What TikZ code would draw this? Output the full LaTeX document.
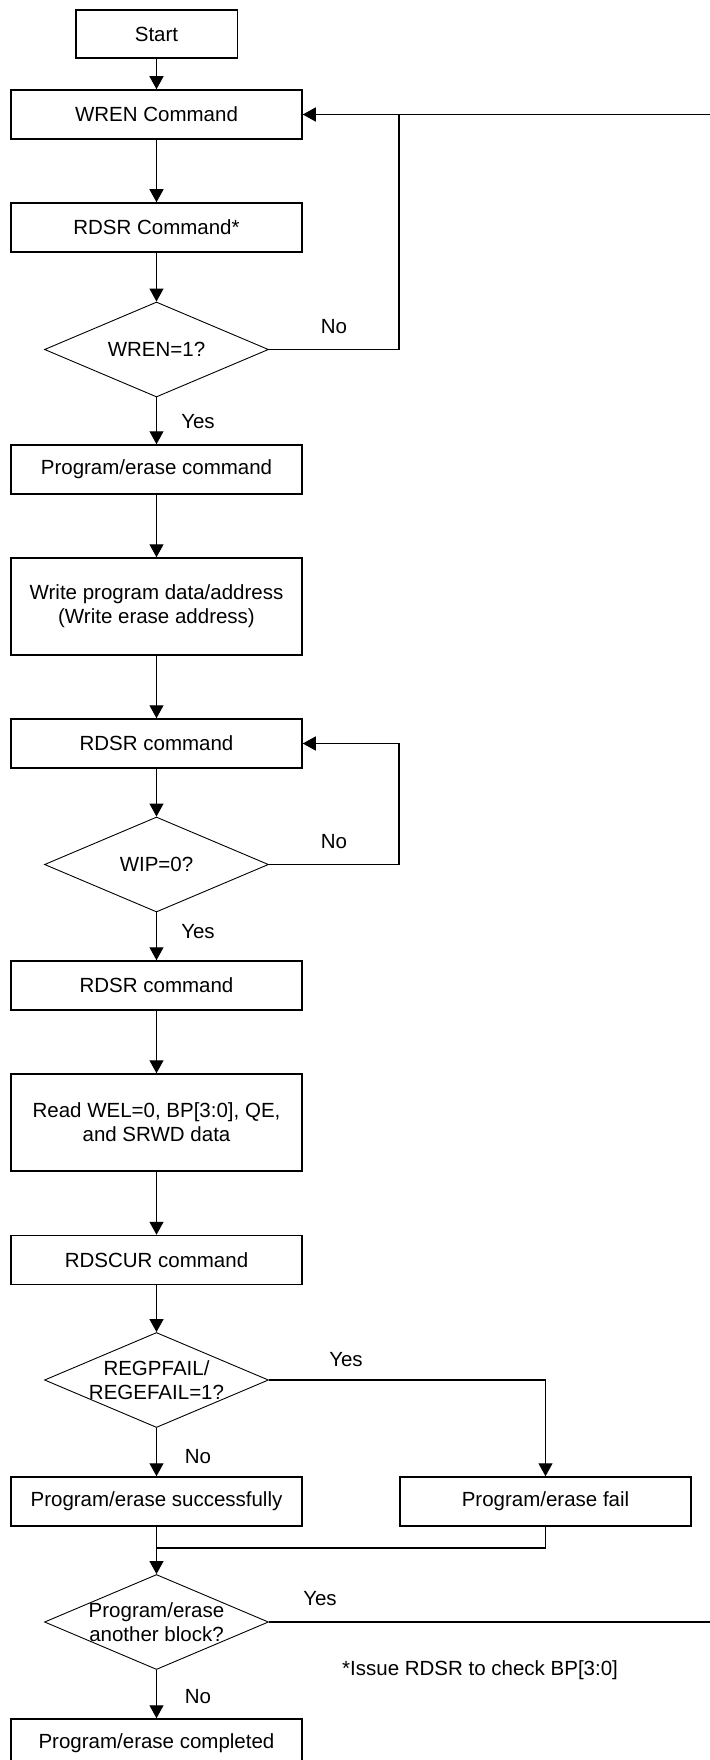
\documentclass[tikz,border=0pt]{standalone}
\usepackage{fontspec}
\setmainfont{Liberation Sans}
\usetikzlibrary{arrows.meta, shapes.geometric}
\tikzset{
  stepbox/.style={draw=black, line width=1.5pt, fill=white, align=center, minimum width=291pt, minimum height=49pt, inner sep=4pt, font=\fontsize{20.5}{24}\selectfont},
  decision/.style={draw=black, line width=0.9pt, diamond, minimum width=224pt, minimum height=95pt, inner sep=0pt},
  arrow/.style={-{Triangle[length=13pt, width=14pt]}, line width=1.2pt, draw=black},
  plainline/.style={line width=1.2pt, draw=black}
}

\begin{document}
\begin{tikzpicture}[
  x=1pt, y=-1pt,
  lbl/.style={font=\fontsize{20.5}{24}\selectfont, inner sep=0pt, align=center},
  tallbox/.style={stepbox, minimum height=97pt}
]
\useasboundingbox (0,0) rectangle (709,1760);
\node[stepbox, minimum width=161.5pt, minimum height=48pt] (start) at (156.5,34) {Start};
\node[stepbox] (wren) at (156.5,114.5) {WREN Command};
\node[stepbox] (rdsra) at (156.5,227.5) {RDSR Command*};
\node[decision] (dwren) at (156.5,349.5) {};
\node[lbl] at (dwren) {WREN=1?};
\node[stepbox] (pecmd) at (156.5,469.5) {Program/erase command};
\node[tallbox] (wrdata) at (156.5,606.5) {Write program data/address\\(Write erase address)};
\node[stepbox] (rdsrb) at (156.5,743.5) {RDSR command};
\node[decision] (dwip) at (156.5,864.5) {};
\node[lbl] at (dwip) {WIP=0?};
\node[stepbox] (rdsrc) at (156.5,985.5) {RDSR command};
\node[tallbox] (readsr) at (156.5,1122.5) {Read WEL=0, BP[3:0], QE,\\and SRWD data};
\node[stepbox] (rdscur) at (156.5,1260) {RDSCUR command};
\node[decision] (dfail) at (156.5,1380) {};
\node[lbl] at (dfail) {REGPFAIL/\\REGEFAIL=1?};
\node[stepbox] (peok) at (156.5,1501.5) {Program/erase successfully};
\node[stepbox] (pefail) at (545.5,1501.5) {Program/erase fail};
\node[decision] (dmore) at (156.5,1622) {};
\node[lbl] at (dmore) {Program/erase\\another block?};
\node[stepbox] (pedone) at (156.5,1743.5) {Program/erase completed};

\coordinate (wrenloop) at (399,114.5);
\coordinate (wiploop) at (399,864.5);
\coordinate (merge) at (156.5,1548);
\coordinate (moreloop) at (716,1622);

\draw[arrow] (start) -- (wren);
\draw[arrow] (wren) -- (rdsra);
\draw[arrow] (rdsra) -- (dwren);
\draw[arrow] (dwren) -- (pecmd);
\draw[arrow] (pecmd) -- (wrdata);
\draw[arrow] (wrdata) -- (rdsrb);
\draw[arrow] (rdsrb) -- (dwip);
\draw[arrow] (dwip) -- (rdsrc);
\draw[arrow] (rdsrc) -- (readsr);
\draw[arrow] (readsr) -- (rdscur);
\draw[arrow] (rdscur) -- (dfail);
\draw[arrow] (dfail) -- (peok);
\draw[arrow] (peok) -- (dmore);
\draw[arrow] (dmore) -- (pedone);

\draw[plainline] (dwren.east) -| (wrenloop);
\draw[arrow] (moreloop) |- (wren.east);
\draw[plainline] (dmore.east) -- (moreloop);
\draw[arrow] (dwip.east) -- (wiploop) |- (rdsrb.east);
\draw[arrow] (dfail.east) -| (pefail.north);
\draw[plainline] (pefail.south) |- (merge);

\node[lbl] (nowren) at (334,327) {No};
\node[lbl] (yeswren) at (198,422) {Yes};
\node[lbl] (nowip) at (334,842) {No};
\node[lbl] (yeswip) at (198,932) {Yes};
\node[lbl] (yesfail) at (346,1360) {Yes};
\node[lbl] (nofail) at (198,1457) {No};
\node[lbl] (yesmore) at (320,1599) {Yes};
\node[lbl] (nomore) at (198,1697) {No};
\node[lbl, anchor=west] (note) at (342,1670) {*Issue RDSR to check BP[3:0]};
\end{tikzpicture}
\end{document}
